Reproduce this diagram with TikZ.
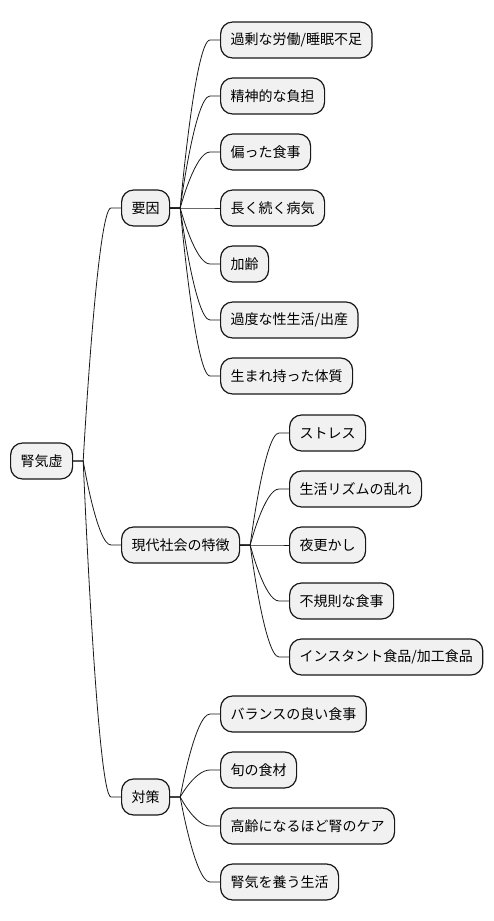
\documentclass[tikz,border=0pt]{standalone}
\usepackage{fontspec}
\setmainfont{Noto Sans CJK JP}
\usetikzlibrary{positioning, calc}
\usepackage{xcolor}
\definecolor{mmfill}{HTML}{F1F1F1}
\definecolor{mmline}{HTML}{181818}

\tikzset{
  topic/.style={draw=mmline, fill=mmfill, line width=1.2pt, rounded corners=12pt,
                minimum height=36pt, inner xsep=10pt, inner ysep=0pt, anchor=west,
                font=\fontsize{14pt}{16pt}\selectfont},
  link/.style={mmline, line width=0.8pt}
}

% curved connector from parent to child
\newcommand{\mmlink}[2]{%
  \path (#1.east) ++(10,0) coordinate (bA) (#2.west) ++(-10,0) coordinate (bB);
  \path ($(bA)!.5!(bB)$) coordinate (bM);
  \draw[link] (#1.east) -- (bA) .. controls (bA) and (bM |- bB) .. (bB) -- (#2.west);}

\begin{document}
\begin{tikzpicture}[x=1pt, y=-1pt]
  \useasboundingbox (0,0) rectangle (493,921);
  \node[topic] (root) at (10,461) {腎気虚};
  \node[topic] (yoin) at (121,208) {要因};
  \node[topic] (gendai) at (121,545) {現代社会の特徴};
  \node[topic] (taisaku) at (121,797) {対策};
  \foreach \n in {yoin, gendai, taisaku}
    \mmlink{root}{\n};
  % causes
  \foreach \y/\n/\t in {40/y1/{過剰な労働/睡眠不足}, 96/y2/{精神的な負担}, 152/y3/{偏った食事},
                        208/y4/{長く続く病気}, 264/y5/{加齢}, 320/y6/{過度な性生活/出産},
                        376/y7/{生まれ持った体質}}{
    \node[topic] (\n) at (220,\y) {\t};
    \mmlink{yoin}{\n};
  }
  % modern society
  \foreach \y/\n/\t in {433/g1/{ストレス}, 489/g2/{生活リズムの乱れ}, 545/g3/{夜更かし},
                        601/g4/{不規則な食事}, 657/g5/{インスタント食品/加工食品}}{
    \node[topic] (\n) at (289,\y) {\t};
    \mmlink{gendai}{\n};
  }
  % measures
  \foreach \y/\n/\t in {714/t1/{バランスの良い食事}, 770/t2/{旬の食材},
                        826/t3/{高齢になるほど腎のケア}, 882/t4/{腎気を養う生活}}{
    \node[topic] (\n) at (220,\y) {\t};
    \mmlink{taisaku}{\n};
  }
\end{tikzpicture}
\end{document}
